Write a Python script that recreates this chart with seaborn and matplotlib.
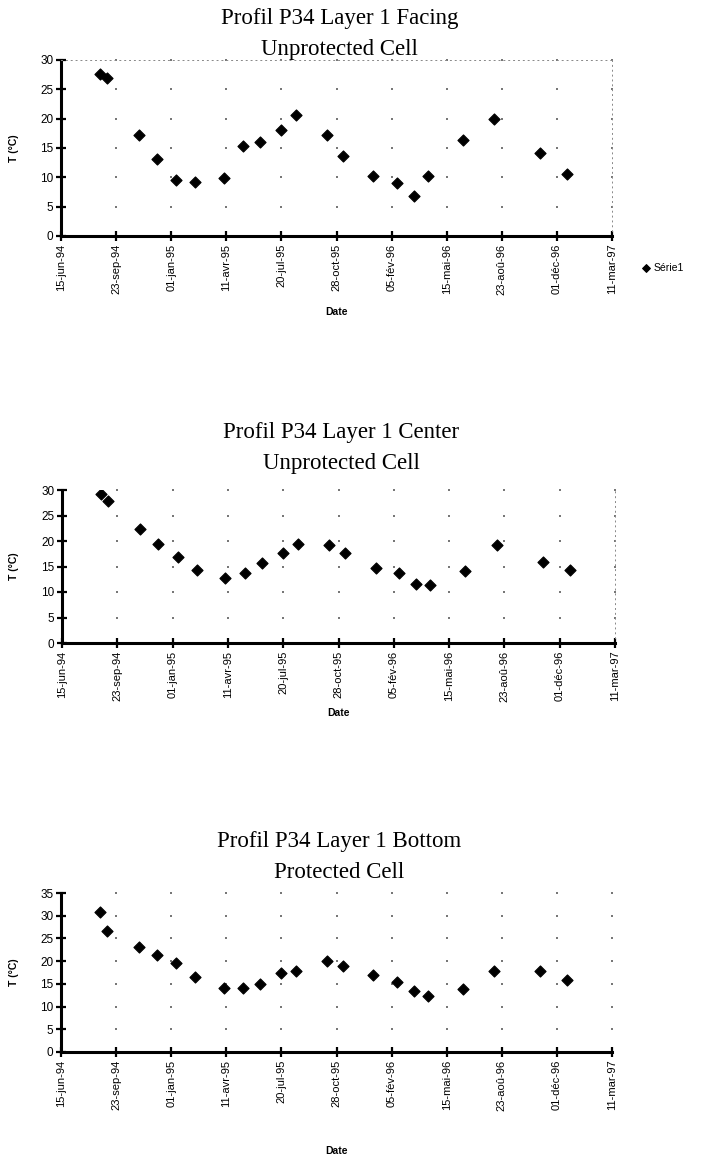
import numpy as np
import pandas as pd
import matplotlib
matplotlib.use("Agg")
import matplotlib.pyplot as plt
import seaborn as sns

# ---------------- data ----------------
dates = ["1994-08-24", "1994-09-07", "1994-11-03", "1994-12-06", "1995-01-10",
         "1995-02-14", "1995-04-06", "1995-05-12", "1995-06-12", "1995-07-19",
         "1995-08-16", "1995-10-10", "1995-11-09", "1996-01-03", "1996-02-15",
         "1996-03-17", "1996-04-11", "1996-06-13", "1996-08-09", "1996-11-01",
         "1996-12-20"]
facing = [27.6, 26.9, 17.3, 13.2, 9.6, 9.2, 9.9, 15.3, 16.1, 18.0, 20.6,
          17.3, 13.7, 10.3, 9.1, 6.9, 10.3, 16.3, 19.9, 14.1, 10.6]
center = [29.2, 27.8, 22.3, 19.5, 16.9, 14.4, 12.8, 13.8, 15.6, 17.7, 19.5,
          19.2, 17.7, 14.8, 13.8, 11.6, 11.3, 14.2, 19.2, 15.9, 14.4]
bottom = [30.8, 26.7, 23.1, 21.4, 19.7, 16.4, 14.0, 14.0, 15.0, 17.3, 17.8,
          20.0, 18.9, 16.9, 15.3, 13.5, 12.3, 13.8, 17.8, 17.9, 15.8]

tick_dates = ["1994-06-15", "1994-09-23", "1995-01-01", "1995-04-11", "1995-07-20",
              "1995-10-28", "1996-02-05", "1996-05-15", "1996-08-23", "1996-12-01",
              "1997-03-11"]
tick_labels = ["15-jun-94", "23-sep-94", "01-jan-95", "11-avr-95", "20-jul-95",
               "28-oct-95", "05-fév-96", "15-mai-96", "23-aoû-96", "01-déc-96",
               "11-mar-97"]

titles = ["Profil P34 Layer 1 Facing\nUnprotected Cell",
          "Profil P34 Layer 1 Center\nUnprotected Cell",
          "Profil P34 Layer 1 Bottom\nProtected Cell"]
series = [facing, center, bottom]
ymax = [30, 30, 35]
series_name = "Série1"

# ---------------- style ----------------
sns.set_theme(style="white")
plt.rcParams["font.family"] = ["Liberation Sans", "DejaVu Sans"]
plt.rcParams["text.color"] = "black"
plt.rcParams["axes.labelcolor"] = "black"
plt.rcParams["xtick.color"] = "black"
plt.rcParams["ytick.color"] = "black"

W, H = 705, 1155
fig = plt.figure(figsize=(W / 100, H / 100), dpi=100)

# axes boxes in pixels: left, right, top, bottom
boxes = [(61, 612, 60, 236), (62, 615, 490, 643), (61, 612, 893, 1052)]
title_y = [34, 448, 857]
xlabel_y = [307, 708, 1146]
top_spine = [True, False, False]
right_spine = [True, True, False]

xt = pd.to_datetime(tick_dates)

for i, (l, r, t, b) in enumerate(boxes):
    ax = fig.add_axes([l / W, 1 - b / H, (r - l) / W, (b - t) / H])
    df = pd.DataFrame({"Date": pd.to_datetime(dates), "T": series[i]})
    sns.scatterplot(data=df, x="Date", y="T", ax=ax, marker="D", s=32,
                    color="black", edgecolor="black", linewidth=0.8,
                    label=series_name if i == 0 else None, legend=(i == 0),
                    zorder=3)
    ax.set_xlim(xt[0], xt[-1])
    ax.set_ylim(0, ymax[i])
    ax.set_xticks(xt)
    ax.set_xticklabels(tick_labels, rotation=90, fontsize=8)
    yt = np.arange(0, ymax[i] + 1, 5)
    ax.set_yticks(yt)
    ax.set_yticklabels([str(v) for v in yt], fontsize=8.5)
    ax.tick_params(axis="both", direction="inout", length=7, width=1.6,
                   color="black", labelcolor="black", pad=2, bottom=True, left=True)

    # sparse dotted grid: dots at tick intersections
    XX, YY = np.meshgrid(np.arange(1, len(xt)), yt[1:])
    ax.scatter(xt[XX.ravel()], YY.ravel(), s=1.2, marker="s",
               color="#777777", linewidths=0, zorder=1, clip_on=False)

    for side in ["left", "bottom"]:
        ax.spines[side].set_linewidth(2.2)
        ax.spines[side].set_color("black")
    for side, show in [("top", top_spine[i]), ("right", right_spine[i])]:
        ax.spines[side].set_visible(show)
        ax.spines[side].set_linestyle((0, (1, 4)))
        ax.spines[side].set_linewidth(0.7)
        ax.spines[side].set_color("#888888")

    ax.set_ylabel("T (°C)", fontsize=7.5, fontweight="bold", color="black")
    ax.yaxis.set_label_coords((19 - l) / (r - l), 0.5)
    ax.set_xlabel("Date", fontsize=7.5, fontweight="bold", color="black")
    ax.xaxis.set_label_coords(0.5, -(xlabel_y[i] - b) / (b - t))

    fig.text((l + r) / 2 / W + 0.004, 1 - title_y[i] / H, titles[i],
             ha="center", va="center", fontsize=16.5, color="black",
             family=["Liberation Serif", "DejaVu Serif"], linespacing=1.6)

    if i == 0:
        leg = ax.legend(loc="center left",
                        bbox_to_anchor=((638 - l) / (r - l), -(268 - b) / (b - t)),
                        frameon=False, fontsize=7.5, handlelength=0.8,
                        handletextpad=0.3, markerscale=0.7, borderaxespad=0)
        for txt in leg.get_texts():
            txt.set_color("black")

fig.savefig("out.png", dpi=100)
